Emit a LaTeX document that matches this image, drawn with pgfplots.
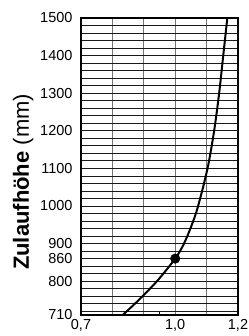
\documentclass[border=0pt]{standalone}
\usepackage{pgfplots}
\pgfplotsset{compat=1.18}
\usepackage{fontspec}
\setmainfont{Liberation Sans}
\begin{document}
\begin{tikzpicture}
\begin{axis}[
  at={(0,0)}, anchor=south west,
  scale only axis,
  width=157bp, height=297bp,
  xmin=0.7, xmax=1.2, ymin=710, ymax=1500,
  axis line style={line width=1.2bp},
  xtick={0.7,1.0,1.2},
  xticklabels={{0,7},{1,0},{1,2}},
  minor xtick={0.8,0.9,1.1},
  ytick={710,800,860,900,1000,1100,1200,1300,1400,1500},
  yticklabels={710,800,860,900,1000,1100,1200,1300,1400,1500},
  minor ytick={720,740,...,1480},
  major tick length=0pt, minor tick length=0pt,
  xmajorgrids, xminorgrids, ymajorgrids, yminorgrids,
  x grid style={black!55, line width=0.8bp},
  y grid style={black!90, line width=0.75bp},
  ymajorgrids/.append style={},
  tick label style={font=\fontsize{14.5bp}{16bp}\selectfont},
  yticklabel style={xshift=-5bp},
  xticklabel style={yshift=-0.5bp},
  extra x ticks={0.95},
  extra x tick labels={},
  extra x tick style={grid=none, major tick length=3bp, tick style={black, line width=0.8bp}, tick align=inside, xtick pos=bottom},
  ylabel={\textbf{Zulaufhöhe} (mm)},
  ylabel style={font=\fontsize{22bp}{24bp}\selectfont, at={(ticklabel cs:0.448)}},
  clip=true,
]
\addplot[black, line width=2bp, smooth, tension=0.5] coordinates {
  (0.833,710) (0.884,750) (0.942,800) (1.000,860) (1.028,900) (1.053,950)
  (1.073,1000) (1.103,1100) (1.124,1200) (1.140,1300) (1.153,1400) (1.166,1500)
};
\addplot[only marks, mark=*, mark size=4.8bp, black] coordinates {(1.0,860)};
\end{axis}
\pgfresetboundingbox
\path[use as bounding box] (-81bp,-21bp) rectangle (168bp,315bp);
\end{tikzpicture}
\end{document}
